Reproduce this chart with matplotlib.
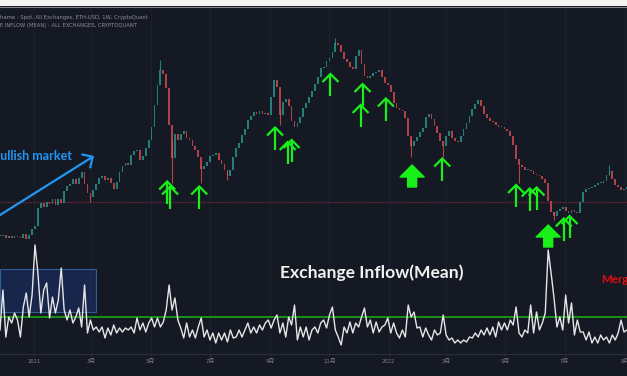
import numpy as np
import pandas as pd
import matplotlib
matplotlib.use("Agg")
import matplotlib.pyplot as plt
import matplotlib.dates as mdates
from matplotlib.patches import Rectangle, Polygon
from matplotlib.lines import Line2D
from matplotlib.transforms import IdentityTransform

plt.rcParams['font.family'] = ['Noto Sans CJK JP', 'DejaVu Sans']

# ---------------- data ----------------
start_date = "2020-11-27"   # 3-day candles
closes = [380, 400, 340, 380, 340, 380, 360, 340, 420, 320,
          400, 520, 580, 940, 1040, 960, 1060, 1020, 1120, 1000,
          1120, 1040, 1280, 1380, 1420, 1520, 1420, 1540, 1660, 1420,
          1240, 1160, 1300, 1420, 1540, 1580, 1500, 1540, 1440, 1320,
          1460, 1660, 1780, 1840, 1800, 2000, 2080, 2100, 1900, 1980,
          2140, 2300, 2560, 3000, 3400, 3700, 3620, 3340, 2600, 1940,
          2420, 2300, 2420, 2480, 2340, 2300, 2180, 2100, 1960, 1720,
          1780, 1860, 1980, 2000, 2040, 1900, 1820, 1700, 1580, 1700,
          1960, 2140, 2240, 2400, 2520, 2700, 2780, 2860, 2820, 2880,
          2820, 2840, 2800, 3160, 3500, 3360, 2800, 3060, 3120, 2980,
          2680, 2560, 2640, 2760, 2940, 3040, 3160, 3280, 3420, 3560,
          3740, 3760, 3880, 3940, 4060, 4240, 4200, 4060, 3920,
          3860, 3760, 3720, 3980, 4100, 3820, 3580, 3540, 3580, 3640,
          3660, 3700, 3560, 3440, 3400, 3260, 3040, 2940, 2900, 2880,
          2740, 2380, 2180, 2280, 2360, 2460, 2540, 2760, 2820, 2720,
          2580, 2440, 2280, 2180, 2380, 2480, 2340, 2280, 2260, 2380,
          2520, 2640, 2780, 2920, 3020, 3100, 2980, 2820, 2740, 2680,
          2660, 2600, 2560, 2560, 2520, 2480, 2380, 2200, 1920, 1800,
          1760, 1700, 1700, 1680, 1620, 1600, 1580, 1520, 1440, 1080,
          860, 780, 880, 920, 960, 880, 840, 900, 860, 840,
          1060, 1260, 1320, 1340, 1360, 1400, 1440, 1440, 1480, 1600,
          1680, 1520, 1400, 1360, 1300, 1320, 1360]

inflow = [22, 62, 15, 35, 29, 39, 32, 15, 45, 59,
          35, 57, 107, 79, 39, 62, 69, 34, 55, 39,
          52, 84, 42, 32, 42, 29, 35, 44, 25, 67,
          19, 32, 22, 25, 20, 25, 14, 24, 17, 27,
          19, 24, 20, 24, 22, 25, 19, 34, 22, 29,
          20, 29, 34, 25, 34, 25, 30, 42, 67, 42,
          54, 32, 24, 14, 29, 15, 22, 14, 25, 34,
          15, 22, 12, 19, 9, 19, 12, 19, 10, 22,
          14, 15, 22, 15, 22, 29, 19, 25, 19, 27,
          22, 29, 32, 24, 32, 37, 19, 29, 15, 35,
          27, 47, 12, 25, 15, 25, 12, 22, 25, 19,
          29, 32, 24, 37, 45, 22, 15, 7, 25,
          19, 30, 19, 29, 25, 35, 44, 25, 32, 19,
          30, 20, 25, 27, 34, 19, 29, 19, 14, 22,
          15, 47, 35, 40, 24, 25, 15, 24, 17, 12,
          22, 17, 19, 37, 17, 12, 14, 9, 12, 9,
          12, 10, 15, 14, 19, 15, 22, 17, 24, 17,
          25, 15, 30, 22, 29, 22, 32, 27, 45, 19,
          15, 22, 19, 47, 19, 40, 22, 29, 39, 102,
          79, 54, 25, 35, 22, 57, 29, 49, 17, 32,
          20, 20, 12, 20, 9, 15, 9, 17, 12, 15,
          9, 17, 12, 19, 32, 20, 22]

# notable candle wicks: candle index, low, high
wick_index = [31, 55, 59, 69, 78, 96, 115, 141, 152, 178, 190, 209]
wick_low = [1060, 3700, 1440, 1440, 1500, 2600, 4200, 1960, 1960, 1440, 700, 1600]
wick_high = [1200, 3900, 2300, 1780, 1700, 2900, 4340, 2300, 2200, 1800, 860, 1800]

support_price = 1060
inflow_mean_level = 35

# thin green arrows (tip date, tip price)
arrow_dates = ["2021-05-18", "2021-05-21", "2021-06-20", "2021-09-06", "2021-09-19",
               "2021-09-23", "2021-11-02", "2021-12-05", "2021-12-03", "2021-12-29",
               "2022-02-25", "2022-05-12", "2022-05-26", "2022-06-02", "2022-06-30",
               "2022-07-06"]
arrow_prices = [1470, 1370, 1370, 2550, 2260, 2300, 3620, 3420, 3000, 3130,
                1930, 1400, 1330, 1350, 730, 780]
# big filled arrows
big_arrow_dates = ["2022-01-25", "2022-06-14"]
big_arrow_prices = [1800, 600]

tick_dates = ["2021-01-01", "2021-03-01", "2021-05-01", "2021-07-01", "2021-09-01",
              "2021-11-01", "2022-01-01", "2022-03-01", "2022-05-01", "2022-07-01",
              "2022-09-01"]
tick_labels = ["2021", "3月", "5月", "7月", "9月", "11月", "2022", "3月", "5月", "7月", "9月"]

# ---------------- style ----------------
BG = "#151924"
UP = "#26a69a"
DOWN = "#ef5350"
GREEN = "#19f019"
W, H = 627, 376

fig = plt.figure(figsize=(W / 100, H / 100), dpi=100, facecolor=BG)
ax = fig.add_axes([0, 22 / H, 1, 347 / H])
ax.set_facecolor(BG)
ax2 = ax.twinx()

dates = pd.date_range(start_date, periods=len(closes), freq="3D")
xn = mdates.date2num(dates)
d0 = mdates.date2num(pd.Timestamp("2021-01-01"))
ax.set_xlim(d0 - 35.0, d0 + 610.1)
ax.set_ylim(-1980, 4960)
ax2.set_ylim(-2, 345)

closes_a = np.array(closes, float)
opens_a = np.concatenate([[closes_a[0]], closes_a[:-1]])
body_lo = np.minimum(opens_a, closes_a)
body_h = np.maximum(np.abs(closes_a - opens_a), 25)
cols = np.where(closes_a >= opens_a, UP, DOWN)
ax.bar(xn, body_h, bottom=body_lo, width=1.8, color=cols, alpha=0.72, linewidth=0, zorder=3)
for k, lo, hi in zip(wick_index, wick_low, wick_high):
    ax.vlines(xn[k], lo, hi, color=cols[k], lw=0.8, alpha=0.75, zorder=3)

ax.axhline(support_price, color="#7d2a35", lw=0.9, ls=(0, (1, 1)), zorder=2)

# blue highlight box on inflow pane
bx0 = d0 - 35.0
bx1 = mdates.date2num(pd.Timestamp("2021-03-06"))
ax2.add_patch(Rectangle((bx0, 40), bx1 - bx0, 43, facecolor="#2962ff", alpha=0.18,
                        edgecolor="none", zorder=1))
ax2.add_patch(Rectangle((bx0, 40), bx1 - bx0, 43, facecolor="none",
                        edgecolor="#2f5f95", lw=0.8, zorder=1))

ax2.axhline(inflow_mean_level, color="#1a9c1a", lw=1.3, zorder=2)
ax2.plot(xn, inflow, color="#e6e6e6", lw=1.0, zorder=4)

# axes cosmetics
for a in (ax, ax2):
    for s in a.spines.values():
        s.set_visible(False)
    a.set_yticks([])
ax.spines["bottom"].set_visible(True)
ax.spines["bottom"].set_color("#2a2e39")
ax.spines["bottom"].set_linewidth(0.8)
ax.set_xticks(mdates.date2num(pd.to_datetime(tick_dates)))
ax.set_xticklabels(tick_labels)
ax.tick_params(axis="x", colors="#3a3e4a", labelcolor="#7c7f88", labelsize=4.3,
               length=1.5, width=0.5, pad=2)
ax.grid(axis="x", color="#1d2130", lw=0.6)
ax.set_axisbelow(True)

# blue "bullish" arrow
ax.annotate("", xy=(d0 + 61.7, 1980), xytext=(d0 - 35.0, 800),
            arrowprops=dict(arrowstyle="->, head_length=0.55, head_width=0.55",
                            color="#2196f3", lw=1.6, mutation_scale=10, shrinkA=0, shrinkB=0),
            zorder=6)

fig.canvas.draw()
ident = IdentityTransform()

for dstr, p in zip(arrow_dates, arrow_prices):
    tx, ty = ax.transData.transform((mdates.date2num(pd.Timestamp(dstr)), p))
    fig.add_artist(Line2D([tx, tx], [ty, ty - 22], transform=ident, color=GREEN, lw=1.6,
                          solid_capstyle="butt", zorder=10))
    fig.add_artist(Line2D([tx - 8, tx, tx + 8], [ty - 8, ty, ty - 8], transform=ident,
                          color=GREEN, lw=1.6, solid_joinstyle="miter", solid_capstyle="butt",
                          zorder=10))

for dstr, p in zip(big_arrow_dates, big_arrow_prices):
    tx, ty = ax.transData.transform((mdates.date2num(pd.Timestamp(dstr)), p))
    pts = [(tx, ty), (tx + 12, ty - 12), (tx + 4.5, ty - 12), (tx + 4.5, ty - 22),
           (tx - 4.5, ty - 22), (tx - 4.5, ty - 12), (tx - 12, ty - 12)]
    fig.add_artist(Polygon(pts, closed=True, transform=ident, facecolor=GREEN,
                           edgecolor=GREEN, lw=1.0, joinstyle="round", zorder=10))

# texts
fig.patches.append(Rectangle((0, 1 - 6 / H), 1, 6 / H, transform=fig.transFigure,
                             facecolor="#f4f4f4", edgecolor="none", zorder=0))
fig.add_artist(Line2D([0, 1], [1 - 6.5 / H, 1 - 6.5 / H], transform=fig.transFigure,
                      color="#9a9a9a", lw=0.6))
fig.text(0, 1 - 17.5 / H, "hame - Spot, All Exchanges, ETH-USD, 1W, CryptoQuant",
         fontsize=3.8, color="#8d909a", va="center", ha="left", family=["DejaVu Sans"])
fig.text(0, 1 - 25 / H, "E INFLOW (MEAN) - ALL EXCHANGES, CRYPTOQUANT",
         fontsize=3.8, color="#8d909a", va="center", ha="left", family=["DejaVu Sans"])

fig.text(-8 / W, 1 - 160 / H, "Bullish market", fontsize=9, color="#2196f3",
         fontweight="bold", family=["Lato"], va="baseline", ha="left")
fig.text(280 / W, 1 - 278 / H, "Exchange Inflow(Mean)", fontsize=12.6, color="#f2f2f2",
         fontweight="bold", family=["Lato"], va="baseline", ha="left")
fig.text(601 / W, 1 - 283 / H, "Merge", fontsize=8.3, color="#e30d0d",
         fontweight="bold", family=["Lato"], va="baseline", ha="left")

fig.savefig("out.png", dpi=100, facecolor=BG)
